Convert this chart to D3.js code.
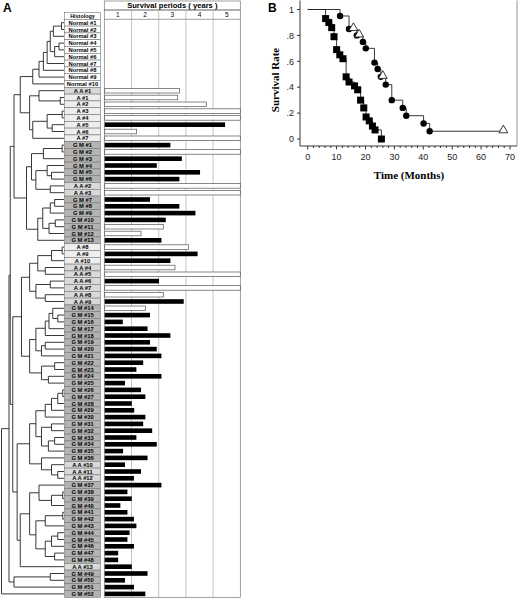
<!DOCTYPE html>
<html><head><meta charset="utf-8">
<script src="https://cdn.jsdelivr.net/npm/d3@7"></script>
<style>body{margin:0;background:#fff}svg{display:block}</style>
</head><body>
<svg id="chart" width="520" height="598"></svg>
<script>
// ---------- Panel A data ----------
const leafIds = ["N1","N2","N3","N4","N5","N6","N7","N8","N9","N10",
 "AA1","A1","A2","A3","A4","A5","A6","A7",
 "GM1","GM2","GM3","GM4","GM5","GM6","AA2","AA3",
 "GM7","GM8","GM9","GM10","GM11","GM12","GM13",
 "A8","A9","A10","AA4","AA5","AA6","AA7","AA8","AA9",
 "GM14","GM15","GM16","GM17","GM18","GM19","GM20","GM21","GM22","GM23","GM24","GM25",
 "GM26","GM27","GM28","GM29","GM30","GM31","GM32","GM33","GM34","GM35","GM36",
 "AA10","AA11","AA12",
 "GM37","GM38","GM39","GM40","GM41","GM42","GM43","GM44","GM45","GM46","GM47","GM48",
 "AA13","GM49","GM50","GM51","GM52"];
// survival in years (null = normal tissue)
const survivalYears = [null,null,null,null,null,null,null,null,null,null,
 2.77,2.70,3.75,5,5,4.44,1.19,5,
 2.43,5,2.85,1.93,3.52,2.76,5,5,
 1.68,2.76,3.35,2.26,2.17,1.35,2.10,
 3.09,3.43,2.43,2.60,5,2.01,5,2.17,2.92,
 1.51,1.68,0.68,1.59,2.43,1.68,1.93,2.10,1.43,1.18,2.10,0.76,
 1.35,1.51,1.01,1.10,1.51,1.43,1.76,1.18,1.93,0.69,1.59,
 0.76,1.35,1.09,
 2.10,0.85,1.01,0.59,0.85,1.09,1.18,0.93,0.85,1.09,0.51,0.51,
 1.01,1.59,0.76,1.09,1.51];
// 1 = deceased (filled bar), 0 = alive (open bar)
const deceased = [0,0,0,0,0,0,0,0,0,0,
 0,0,0,0,0,1,0,0,
 1,0,1,1,1,1,0,0,
 1,1,1,1,0,0,1,
 0,1,1,0,0,1,0,0,1,
 0,1,1,1,1,1,1,1,1,1,1,1,
 1,1,1,1,1,1,1,1,1,1,1,
 1,1,1,
 1,1,1,1,1,1,1,1,1,1,1,1,
 1,1,1,1,1];
const yearTicks = [1,2,3,4,5];
const groupPrefix = {N:"Normal #", A:"A #", AA:"A A #", GM:"G M #"};
const groupFill = {N:"#ffffff", A:"#eeeeee", AA:"#d9d9d9", GM:"#b3b3b3"};

// dendrogram: [left, right, height]
const normTree = [[[[[[["N1","N2",.04],"N3",.17],[["N4","N5",.08],"N6",.15],.22],"N7",.27],"N8",.33],"N9",.4],"N10",.5];
const aTop = ["AA1",["A1","A2",.06],.4];
const aMid = [[["A3","A4",.03],["A5","A6",.19],.27],"A7",.5];
const gm1 = [[["GM1","GM2",.03],"GM3",.33],[["GM4",["GM5","GM6",.2],.27],["AA2","AA3",.22],.45],.52];
const gm2 = [[[["GM7","GM8",.15],"GM9",.22],[["GM10","GM11",.14],"GM12",.24],.34],"GM13",.42];
const a3 = [[["A8","A9",.03],"A10",.2],["AA4","AA5",.3],.42];
const aa4 = [["AA6","AA7",.22],["AA8","AA9",.3],.45];
const l1 = [[["GM14",["GM15","GM16",.1],.18],"GM17",.24],"GM18",.3];
const l2 = [["GM19","GM20",.3],"GM21",.36];
const l3 = [["GM22","GM23",.15],["GM24","GM25",.25],.36];
const l4 = [[[["GM26","GM27",.02],"GM28",.1],"GM29",.2],"GM30",.3];
const l5 = [["GM31","GM32",.2],[["GM33","GM34",.15],"GM35",.25],.36];
const l6 = ["GM36",["AA10",["AA11","AA12",.1],.2],.36];
const l7 = ["GM37",[["GM38","GM39",.02],"GM40",.2],.4];
const l8 = [[["GM41","GM42",.02],"GM43",.3],[[["GM44","GM45",.1],"GM46",.2],["GM47","GM48",.15],.3],.45];
const treeUpper = [[normTree,[aTop,aMid,.55],.7],[gm1,gm2,.6],.8];
const treeMid = [[[a3,aa4,.55],[[l1,l2,.45],l3,.55],.68],[[[l4,l5,.45],l6,.55],[[l7,l8,.55],"AA13",.7],.75],.82];
const treeRoot = [[[treeUpper,treeMid,.86],[["GM49","GM50",.22],"GM51",.8],.88],"GM52",1];

// ---------- Panel B data ----------
const gmTimes = [0,6.2,7.3,8.3,9.1,10.0,11.1,12.2,13.3,14.3,16.2,17.3,18.3,19.4,20.2,21.3,22.4,23.3,25.5];
const gmSurv  = [1,.93,.90,.86,.79,.69,.65,.62,.48,.44,.41,.38,.30,.24,.17,.14,.10,.07,0];
const aaTimes = [0,11.2,14.3,17.0,19.1,20.1,23.1,24.2,25.3,27.0,29.1,32.9,34.1,40.1,42.2,67.7];
const aaSurv  = [1,.95,.85,.80,.75,.70,.59,.54,.48,.42,.30,.24,.18,.12,.06,.06];
const censorTimes = [15.8,17.8,26.0,67.7];
const censorSurv  = [.85,.80,.48,.06];
const xTicksB = [0,10,20,30,40,50,60,70];
const yTicksB = [0,.2,.4,.6,.8,1];
const yTickLabelsB = ["0",".2",".4",".6",".8","1"];

// ---------- drawing ----------
const svg = d3.select("#chart");
const F = "Arial, 'Liberation Sans', sans-serif";
const groupOf = id => id.replace(/[0-9]+/,"");
const labelOf = id => groupPrefix[groupOf(id)] + id.replace(/^[A-Z]+/,"");

const rowTop = 19.3, rowH = 6.8;
const yRow = d3.scaleBand().domain(leafIds).range([rowTop, rowTop + rowH*leafIds.length]);
const yC = id => yRow(id) + yRow.bandwidth()/2;
const xYears = d3.scaleLinear().domain([0,5]).range([104.3,240.3]);
const labX0 = 64.5, labX1 = 100.5;

svg.append("text").attr("x",3).attr("y",12).attr("font-family",F).attr("font-weight","bold")
  .attr("font-size",12).text("A");

// histology header
svg.append("rect").attr("x",labX0).attr("y",12.5).attr("width",labX1-labX0).attr("height",rowTop-12.5)
  .attr("fill","#fff").attr("stroke","#777").attr("stroke-width",0.6);
svg.append("text").attr("x",(labX0+labX1)/2).attr("y",17.8).attr("text-anchor","middle")
  .attr("font-family",F).attr("font-weight","bold").attr("font-size",5.4).attr("fill","#000").text("Histology");

// label cells
const cells = svg.append("g");
leafIds.forEach(id => {
  cells.append("rect").attr("x",labX0).attr("y",yRow(id)).attr("width",labX1-labX0).attr("height",rowH)
    .attr("fill",groupFill[groupOf(id)]).attr("stroke","#777").attr("stroke-width",0.6);
  cells.append("text").attr("x",(labX0+labX1)/2).attr("y",yC(id)+2.1).attr("text-anchor","middle")
    .attr("font-family",F).attr("font-weight","bold").attr("font-size",5.8).attr("fill","#000")
    .text(labelOf(id));
});

// survival header
const bottomY = rowTop + rowH*leafIds.length;
svg.append("rect").attr("x",xYears(0)).attr("y",1).attr("width",xYears(5)-xYears(0)).attr("height",9)
  .attr("fill","#fff").attr("stroke","#777").attr("stroke-width",0.7);
svg.append("text").attr("x",(xYears(0)+xYears(5))/2).attr("y",8.3).attr("text-anchor","middle")
  .attr("font-family",F).attr("font-weight","bold").attr("font-size",7.6).attr("fill","#000")
  .text("Survival periods ( years )");
svg.append("rect").attr("x",xYears(0)).attr("y",10).attr("width",xYears(5)-xYears(0)).attr("height",bottomY-10)
  .attr("fill","none").attr("stroke","#777").attr("stroke-width",0.7);
svg.append("line").attr("x1",xYears(0)).attr("x2",xYears(5)).attr("y1",rowTop).attr("y2",rowTop)
  .attr("stroke","#777").attr("stroke-width",0.7);
yearTicks.forEach(t => {
  if (t < 5) svg.append("line").attr("x1",xYears(t)).attr("x2",xYears(t)).attr("y1",10).attr("y2",bottomY)
    .attr("stroke","#aaa").attr("stroke-width",0.7);
  svg.append("text").attr("x",xYears(t-0.5)).attr("y",17.2).attr("text-anchor","middle")
    .attr("font-family",F).attr("font-size",6.5).attr("fill","#000").text(t);
});

// bars
const bars = svg.append("g");
leafIds.forEach((id,i) => {
  const v = survivalYears[i];
  if (v == null) return;
  const bh = 4.6;
  bars.append("rect").attr("x",xYears(0)+0.4).attr("y",yC(id)-bh/2)
    .attr("width",xYears(v)-xYears(0)-0.4).attr("height",bh)
    .attr("fill",deceased[i] ? "#000" : "#fff")
    .attr("stroke",deceased[i] ? "none" : "#555").attr("stroke-width",0.7);
});

// dendrogram
function toHier(n){ return Array.isArray(n) ? {h:n[2], children:[toHier(n[0]),toHier(n[1])]} : {id:n, h:0}; }
const root = d3.hierarchy(toHier(treeRoot));
const xTree = d3.scaleLinear().domain([0,1]).range([64,1.5]);
root.eachAfter(d => { d.y0 = d.children ? d3.mean(d.children, c => c.y0) : yC(d.data.id); });
const tg = svg.append("g").attr("stroke","#222").attr("stroke-width",0.9).attr("fill","none");
root.each(d => {
  if (!d.children) return;
  const xp = xTree(d.data.h);
  tg.append("line").attr("x1",xp).attr("x2",xp).attr("y1",d.children[0].y0).attr("y2",d.children[1].y0);
  d.children.forEach(c => {
    tg.append("line").attr("x1",xp).attr("x2",xTree(c.data.h)).attr("y1",c.y0).attr("y2",c.y0);
  });
});

// ---------- Panel B ----------
const xB = d3.scaleLinear().domain([0,70]).range([307.7,510]);
const yB = d3.scaleLinear().domain([0,1]).range([139,9.5]);
const bL = 300, bR = 517, bB = 146, bT = 0.5;
svg.append("text").attr("x",268).attr("y",12).attr("font-family",F).attr("font-weight","bold")
  .attr("font-size",12).text("B");
const ax = svg.append("g").attr("stroke","#222").attr("stroke-width",0.9);
ax.append("line").attr("x1",bL).attr("x2",bL).attr("y1",bT).attr("y2",bB);
ax.append("line").attr("x1",bL).attr("x2",bR).attr("y1",bB).attr("y2",bB);
ax.append("line").attr("x1",bR).attr("x2",bR).attr("y1",bT).attr("y2",bB).attr("stroke","#888");
d3.range(0,71,2).forEach(t => {
  ax.append("line").attr("x1",xB(t)).attr("x2",xB(t)).attr("y1",bB).attr("y2",bB + (t%10===0?3.5:2));
});
xTicksB.forEach(t => {
  svg.append("text").attr("x",xB(t)).attr("y",160).attr("text-anchor","middle")
    .attr("font-family",F).attr("font-size",9).attr("fill","#222").text(t);
});
yTicksB.forEach((t,i) => {
  ax.append("line").attr("x1",bL-3).attr("x2",bL).attr("y1",yB(t)).attr("y2",yB(t));
  svg.append("text").attr("x",bL-6).attr("y",yB(t)+3.2).attr("text-anchor","end")
    .attr("font-family",F).attr("font-size",9).attr("fill","#222").text(yTickLabelsB[i]);
});
svg.append("text").attr("transform","translate(279,80) rotate(-90)").attr("text-anchor","middle")
  .attr("font-family","'Liberation Serif','Times New Roman',serif").attr("font-weight","bold")
  .attr("font-size",11).text("Survival Rate");
svg.append("text").attr("x",409).attr("y",179).attr("text-anchor","middle")
  .attr("font-family","'Liberation Serif','Times New Roman',serif").attr("font-weight","bold")
  .attr("font-size",11).text("Time (Months)");

const step = d3.line().x(d => xB(d[0])).y(d => yB(d[1])).curve(d3.curveStepAfter);
svg.append("path").attr("d",step(d3.zip(aaTimes,aaSurv))).attr("fill","none").attr("stroke","#222").attr("stroke-width",0.9);
svg.append("path").attr("d",step(d3.zip(gmTimes,gmSurv))).attr("fill","none").attr("stroke","#222").attr("stroke-width",0.9);
// markers
aaTimes.forEach((t,i) => {
  if (i === 0 || i === aaTimes.length-1) return;
  svg.append("circle").attr("cx",xB(t)).attr("cy",yB(aaSurv[i])).attr("r",3.2).attr("fill","#000");
});
gmTimes.forEach((t,i) => {
  if (i === 0) return;
  svg.append("rect").attr("x",xB(t)-3.5).attr("y",yB(gmSurv[i])-3.5).attr("width",7).attr("height",7).attr("fill","#000");
});
const tri = d3.symbol().type(d3.symbolTriangle).size(34);
censorTimes.forEach((t,i) => {
  svg.append("path").attr("d",tri()).attr("transform",`translate(${xB(t)},${yB(censorSurv[i])-1})`)
    .attr("fill","#fff").attr("stroke","#222").attr("stroke-width",0.9);
});
</script>
</body></html>
